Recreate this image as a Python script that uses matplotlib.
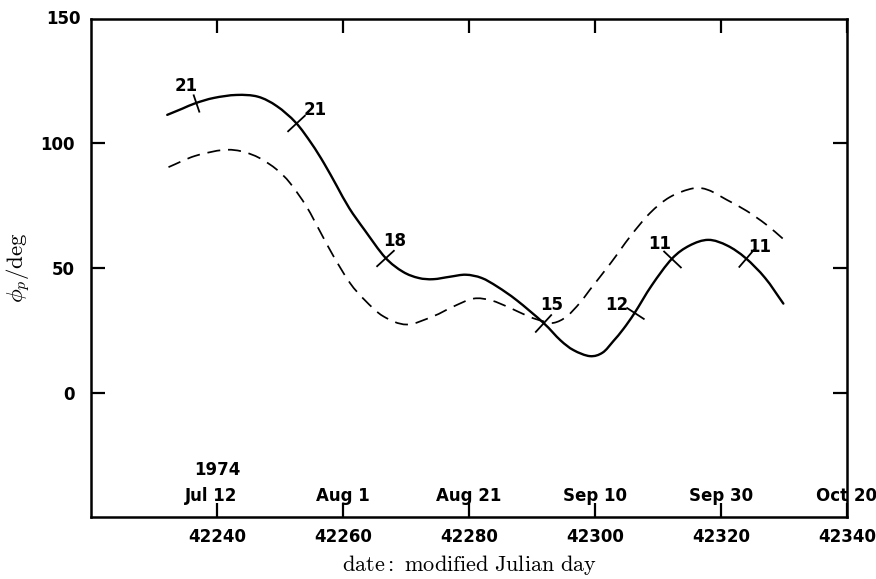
import numpy as np
import matplotlib
matplotlib.use("Agg")
import matplotlib.pyplot as plt
from matplotlib.path import Path
from matplotlib.patches import PathPatch

plt.rcParams["mathtext.fontset"] = "cm"

# Position angle of polarization vs. date (modified Julian day)
solid_mjd = [42232.1, 42234.5, 42236.6, 42239.5, 42243.1, 42246.5, 42249.5, 42252.5,
             42255.0, 42257.0, 42259.0, 42261.0, 42263.5, 42266.7, 42269.5, 42272.0,
             42274.3, 42277.0, 42279.5, 42282.0, 42284.5, 42287.6, 42291.8, 42294.5,
             42296.6, 42299.2, 42301.2, 42302.9, 42304.5, 42306.3, 42309.0, 42312.2,
             42315.0, 42318.0, 42321.0, 42323.9, 42327.0, 42329.9]
solid_phi = [111.5, 114.0, 116.2, 118.3, 119.5, 118.8, 115.0, 108.4,
             100.0, 92.0, 83.0, 74.0, 65.0, 54.2, 48.5, 46.0,
             45.5, 46.5, 47.3, 46.0, 42.5, 37.0, 28.0, 21.0,
             17.0, 14.6, 16.0, 20.6, 25.5, 32.0, 43.0, 53.7,
             59.0, 61.3, 59.0, 54.0, 46.0, 35.7]

dashed_mjd = [42232.3, 42236.5, 42241.0, 42244.0, 42246.8, 42249.5, 42251.6, 42254.2,
              42256.5, 42258.5, 42261.1, 42263.5, 42266.4, 42270.1, 42274.3, 42277.5,
              42280.7, 42283.5, 42286.5, 42289.5, 42291.8, 42293.5, 42295.5, 42297.6,
              42299.2, 42302.5, 42305.6, 42308.7, 42311.9, 42315.6, 42318.0, 42320.9,
              42324.1, 42327.2, 42329.9]
dashed_phi = [90.5, 95.0, 97.4, 96.8, 94.1, 89.5, 84.1, 74.7,
              64.0, 54.7, 44.0, 37.0, 30.6, 27.3, 30.6, 34.5,
              37.7, 37.0, 34.0, 30.5, 28.6, 28.0, 30.5, 36.0,
              41.3, 52.0, 62.7, 72.0, 78.5, 82.0, 81.3, 77.4,
              72.9, 67.4, 61.6]

# Observation markers along the solid curve, with number of observations
obs_mjd = [42236.6, 42252.5, 42266.7, 42291.8, 42306.3, 42312.2, 42323.9]
obs_phi = [116.2, 108.4, 54.2, 28.0, 32.0, 53.7, 54.0]
obs_count = ["21", "21", "18", "15", "12", "11", "11"]
obs_label_offset = [(-9, 17), (19, 13), (9, 17), (8, 18), (-18, 8), (-12, 15), (14, 11)]

x_ticks = [42240, 42260, 42280, 42300, 42320, 42340]
x_ticklabels = ["42240", "42260", "42280", "42300", "42320", "42340"]
date_labels = ["Jul 12", "Aug 1", "Aug 21", "Sep 10", "Sep 30", "Oct 20"]
y_ticks = [0, 50, 100]
y_ticklabels = ["0", "50", "100"]


def smooth_path(xs, ys):
    """Cubic Bezier path passing through every (x, y) point (Catmull-Rom)."""
    P = np.column_stack([xs, ys]).astype(float)
    T = np.empty_like(P)
    T[1:-1] = (P[2:] - P[:-2]) / 2
    T[0] = P[1] - P[0]
    T[-1] = P[-1] - P[-2]
    verts = [P[0]]
    codes = [Path.MOVETO]
    for i in range(len(P) - 1):
        verts += [P[i] + T[i] / 3, P[i + 1] - T[i + 1] / 3, P[i + 1]]
        codes += [Path.CURVE4] * 3
    return Path(np.array(verts), codes), P, T


W, H = 876, 579
fig = plt.figure(figsize=(W / 100, H / 100), dpi=100)
ax = fig.add_axes([91 / W, 1 - 517 / H, (847 - 91) / W, (517 - 19) / H])
ax.set_xlim(42220, 42340)
ax.set_ylim(-50, 150)

tick_font = dict(family="DejaVu Sans", weight="bold", size=12)

ax.set_xticks(x_ticks)
ax.set_xticklabels(x_ticklabels, **tick_font)
ax.set_yticks(y_ticks)
ax.set_yticklabels(y_ticklabels, **tick_font)
ax.tick_params(direction="in", length=10, width=1.6, top=True, right=True,
               labeltop=False, labelright=False)
ax.tick_params(axis="y", pad=12)
ax.tick_params(axis="x", pad=8)
for sp in ax.spines.values():
    sp.set_linewidth(1.8)

# upper-left corner value
ax.text(-0.014, 1.0, "150", transform=ax.transAxes, ha="right", va="center", **tick_font)

solid_path, SP, ST = smooth_path(solid_mjd, solid_phi)
ax.add_patch(PathPatch(solid_path, fill=False, edgecolor="black", lw=1.7,
                       capstyle="round"))
dashed_path, _, _ = smooth_path(dashed_mjd, dashed_phi)
ax.add_patch(PathPatch(dashed_path, fill=False, edgecolor="black", lw=1.25,
                       linestyle=(0, (7.5, 4.5))))

# perpendicular tick marks at the observation points
fig.canvas.draw()
M = ax.transData.get_matrix()[:2, :2]
for m, p, lab, off in zip(obs_mjd, obs_phi, obs_count, obs_label_offset):
    i = int(np.argmin(np.abs(SP[:, 0] - m)))
    tx, ty = M @ ST[i]
    n = np.hypot(tx, ty)
    px, py = -ty / n, tx / n
    ax.plot([m], [p], ls="none", color="black",
            marker=[(-px, -py), (px, py)], markersize=13, markeredgewidth=1.3)
    ax.annotate(lab, (m, p), xytext=off, textcoords="offset pixels",
                ha="center", va="center", **tick_font)

# calendar dates above the axis
xt = ax.get_xaxis_transform()
for x, d in zip(x_ticks, date_labels):
    ax.text(x - (1 if d == "Jul 12" else 0), 0.043, d, transform=xt,
            ha="center", va="center", **tick_font)
ax.text(42240, 0.094, "1974", transform=xt, ha="center", va="center", **tick_font)

ax.set_xlabel(r"$\mathrm{date:\ modified\ Julian\ day}$", fontsize=16)
ax.xaxis.set_label_coords(0.5, -0.073)
ax.set_ylabel(r"$\phi_p/\mathrm{deg}$", fontsize=16.5)
ax.yaxis.set_label_coords(-0.077, 0.5)

fig.savefig("out.png", dpi=100)
